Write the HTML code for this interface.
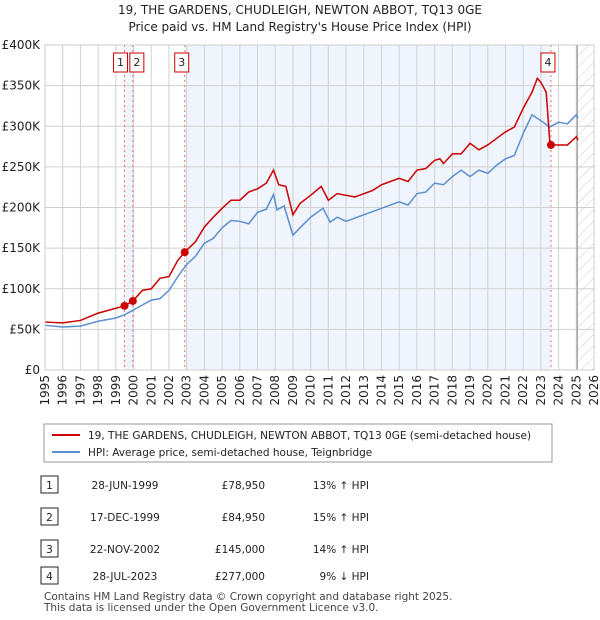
<!DOCTYPE html>
<html><head><meta charset="utf-8"><style>
body{margin:0;background:#fff;font-family:"DejaVu Sans","Liberation Sans",sans-serif;}
#wrap{position:relative;width:600px;height:620px;overflow:hidden}
</style></head><body><div id="wrap">
<svg id="svg" width="600" height="620" xmlns="http://www.w3.org/2000/svg" font-family="DejaVu Sans, Liberation Sans, sans-serif">
<defs><pattern id="hatch" width="8" height="8" patternUnits="userSpaceOnUse" patternTransform="rotate(45)"><line x1="0" y1="0" x2="0" y2="8" stroke="#ccc" stroke-width="1"/></pattern></defs>
<text x="300" y="14" text-anchor="middle" font-size="12" fill="#222">19, THE GARDENS, CHUDLEIGH, NEWTON ABBOT, TQ13 0GE</text>
<text x="300" y="31" text-anchor="middle" font-size="12" fill="#222">Price paid vs. HM Land Registry's House Price Index (HPI)</text>
<g id="plot"></g>
<rect x="44" y="424" width="508" height="38" fill="#fff" stroke="#999"/>
<line x1="52" y1="435" x2="80" y2="435" stroke="#cc0000" stroke-width="2"/>
<text x="88" y="439" font-size="10.5" fill="#222">19, THE GARDENS, CHUDLEIGH, NEWTON ABBOT, TQ13 0GE (semi-detached house)</text>
<line x1="52" y1="452" x2="80" y2="452" stroke="#5b8fd0" stroke-width="2"/>
<text x="88" y="456" font-size="10.5" fill="#222">HPI: Average price, semi-detached house, Teignbridge</text>
<g id="table" font-size="10.5" fill="#222"></g>
<text x="44" y="600" font-size="10.5" fill="#444">Contains HM Land Registry data © Crown copyright and database right 2025.</text>
<text x="44" y="611" font-size="10.5" fill="#444">This data is licensed under the Open Government Licence v3.0.</text>
</svg></div>
<script>
const hpiYears=[1995,1996,1997,1998,1999,1999.5,2000,2001,2001.5,2002,2002.5,2003,2003.5,2004,2004.5,2005,2005.5,2006,2006.5,2007,2007.5,2007.9,2008.1,2008.5,2009,2009.4,2010,2010.7,2011.1,2011.5,2012,2012.5,2013,2014,2015,2015.5,2016,2016.5,2017,2017.5,2018,2018.5,2019,2019.5,2020,2020.5,2021,2021.5,2022,2022.5,2023,2023.5,2024,2024.5,2025,2025.1];
const hpiValues=[55,53,54,60,64,68,74,86,88,98,115,130,140,156,162,175,184,183,180,194,198,216,197,202,166,175,188,199,182,188,183,187,191,199,207,203,217,219,230,228,238,246,238,246,242,252,260,264,291,314,307,299,305,303,314,310];
const priceYears=[1995,1996,1997,1998,1999,1999.49,1999.96,2000.5,2001,2001.5,2002,2002.5,2002.89,2003.5,2004,2004.5,2005,2005.5,2006,2006.5,2007,2007.5,2007.9,2008.2,2008.6,2009,2009.4,2010,2010.6,2011,2011.5,2012,2012.5,2013,2013.5,2014,2014.5,2015,2015.5,2016,2016.5,2017,2017.3,2017.5,2018,2018.5,2019,2019.5,2020,2020.5,2021,2021.5,2022,2022.5,2022.8,2023,2023.3,2023.5,2023.57,2024,2024.5,2025,2025.1];
const priceValues=[59,58,61,70,76,78.95,84.95,98,100,113,115,135,145,158,176,188,199,209,209,219,223,230,246,228,226,191,205,215,226,209,217,215,213,217,221,228,232,236,232,246,248,258,260,254,266,266,279,271,277,285,293,299,322,342,359,354,342,282,277,277,277,287,283];
const saleLabels=["1","2","3","4"];
const saleYears=[1999.49,1999.96,2002.89,2023.57];
const saleValues=[78.95,84.95,145,277];
const saleDates=["28-JUN-1999","17-DEC-1999","22-NOV-2002","28-JUL-2023"];
const salePrices=["£78,950","£84,950","£145,000","£277,000"];
const saleHpi=["13% ↑ HPI","15% ↑ HPI","14% ↑ HPI","9% ↓ HPI"];
const yTicks=[0,50,100,150,200,250,300,350,400];
const yTickLabels=["£0","£50K","£100K","£150K","£200K","£250K","£300K","£350K","£400K"];
const xTicks=[1995,1996,1997,1998,1999,2000,2001,2002,2003,2004,2005,2006,2007,2008,2009,2010,2011,2012,2013,2014,2015,2016,2017,2018,2019,2020,2021,2022,2023,2024,2025,2026];

const L=45,R=594,T=45,B=370;
const x=v=>L+(v-1995)/(2026-1995)*(R-L);
const y=v=>B-v/400*(B-T);
const NS="http://www.w3.org/2000/svg";
const g=document.getElementById('plot');
function mk(tag,attrs,parent){const e=document.createElementNS(NS,tag);for(const k in attrs)e.setAttribute(k,attrs[k]);(parent||g).appendChild(e);return e;}
let e;
e=mk('rect',{x:L,y:T,width:R-L,height:B-T,fill:'#fff'});


e=mk('rect',{x:x(saleYears[0]),y:T,width:x(saleYears[1])-x(saleYears[0]),height:B-T,fill:'#f0f4fd'});


e=mk('rect',{x:x(saleYears[2]),y:T,width:x(saleYears[3])-x(saleYears[2]),height:B-T,fill:'#f0f4fd'});


e=mk('rect',{x:x(2025.05),y:T,width:R-x(2025.05),height:B-T,fill:'url(#hatch)'});


xTicks.forEach(t=>{e=mk('line',{x1:x(t),x2:x(t),y1:T,y2:B,stroke:'#d0d0d0'});


const tx=x(t)+4,ty=375;
e=mk('text',{x:tx,y:ty,'text-anchor':'end','font-size':12,fill:'#222',transform:'rotate(-90 '+tx+' '+ty+')'});e.textContent=t;

});
yTicks.forEach((t,i)=>{e=mk('line',{x1:L,x2:R,y1:y(t),y2:y(t),stroke:'#d0d0d0'});


e=mk('text',{x:40,y:y(t)+4,'text-anchor':'end','font-size':12,fill:'#222'});e.textContent=yTickLabels[i];

});
e=mk('line',{x1:x(2025.05),x2:x(2025.05),y1:T,y2:B,stroke:'#888'});


saleYears.forEach((s,i)=>{e=mk('line',{x1:x(s),x2:x(s),y1:T,y2:B,stroke:'#f07070','stroke-dasharray':'2,3'});

});
e=mk('polyline',{points:hpiYears.map((v,i)=>x(v)+','+y(hpiValues[i])).join(' '),fill:'none',stroke:'#5b8fd0','stroke-width':1.5});


e=mk('polyline',{points:priceYears.map((v,i)=>x(v)+','+y(priceValues[i])).join(' '),fill:'none',stroke:'#cc0000','stroke-width':1.5});


saleYears.forEach((s,i)=>{e=mk('circle',{cx:x(s),cy:y(saleValues[i]),r:4,fill:'#cc0000'});


const bx=x(s)-(i==0?11:i==1?3:10);
e=mk('rect',{x:bx,y:53,width:14,height:19,fill:'#fff',stroke:'#cc0000'});


e=mk('text',{x:bx+7,y:66,'text-anchor':'middle','font-size':11,fill:'#222'});e.textContent=saleLabels[i];

});
e=mk('rect',{x:L,y:T,width:R-L,height:B-T,fill:'none',stroke:'#ccc'});
const tb=document.getElementById('table');
const rowY=[488,520,552,579];
saleLabels.forEach((l,i)=>{const ry=rowY[i];
e=mk('rect',{x:41,y:ry-12,width:17,height:17,fill:'#fff',stroke:'#222'},tb);


const cells=[[49.5,l,'middle','table-index'],[125,saleDates[i],'middle','table-date'],[265,salePrices[i],'end','table-price'],[369,saleHpi[i],'end','table-hpi-diff']];
cells.forEach(c=>{e=mk('text',{x:c[0],y:ry+1,'text-anchor':c[2]},tb);e.textContent=c[1];

});});
</script></body></html>
